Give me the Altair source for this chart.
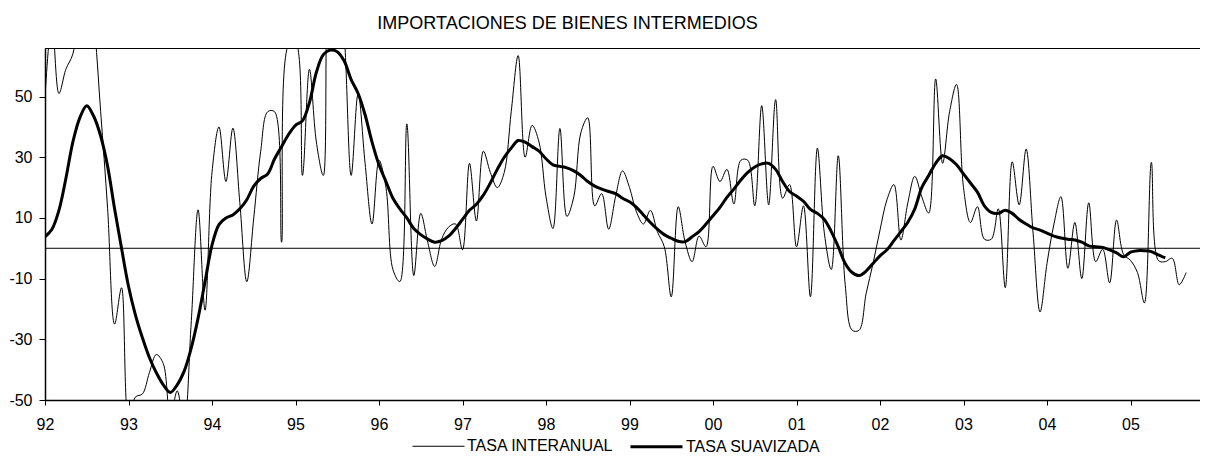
import altair as alt
import pandas as pd

# Monthly series, Jan 1992 onward
start_year = 1992
tasa_interanual = [
    50, 75, 51, 59, 64, 80, 90, 75, 45, 13, -25, -13,          # 1992
    -56, -49, -48, -41, -35, -38, -56, -47, -58, -25, 12.7, -20.4,  # 1993
    25, 40, 22, 39.6, 15, -11, 10, 32, 45, 45, 2, 67,          # 1994
    68, 24, 59, 35, 24, 95, 90, 70, 24, 51, 28, 8,             # 1995
    29, 20, -7, -11, 41, -9, 11.5, 2, -6, 3, 7, 8,             # 1996
    -0.5, 28, 9, 32, 25, 20, 25, 45, 63.5, 30, 40.5, 35,       # 1997
    17, 6.5, 39.5, 10.5, 17, 38, 43, 14, 18, 6.3, 17, 25.5,    # 1998
    20, 12, 8, 12.5, 5.5, 0.5, -16, 13.7, 2, -4.4, 4, 0.5,     # 1999
    27, 22, 26, 14.6, 29, 29, 14, 47, 14.3, 49, 16.5, 21,      # 2000
    0.5, 14, -16, 33, 5, -7, 30.5, -12, -27, -27, -15, -5,     # 2001
    6, 16, 21, 2.7, 15, 23.7, 17, 11.6, 55.8, 28, 45, 54,      # 2002
    20, 8.5, 13.7, 3, 3, 13, -13, 28.5, 14.3, 32.7, 5, -21,    # 2003
    -5, 8, 17, -6.6, 8.5, -10, 15, -4.4, -0.3, -11.4, 9.3, -2, # 2004
    -4, -8, -18, 28.3, -4, -4.4, -3.3, -12, -8,                # 2005
]
tasa_suavizada = [
    3.8, 6.3, 12.5, 23, 35, 43, 47, 43.5, 37, 27, 13, 0,
    -12.5, -22, -29.5, -36, -41, -45, -47.5, -45, -40.5, -33, -23, -11,
    1, 7.8, 10, 11, 13, 16, 20.5, 23, 24.5, 29.5, 33.5, 37.5,
    40.5, 42, 48, 58, 63.8, 65.3, 64.8, 61.7, 55.6, 51, 44, 35,
    27.5, 22, 16.5, 13, 10, 6.5, 4.5, 3, 2, 2.5, 4, 6.5,
    9.5, 12.5, 14.5, 17.5, 21.5, 26, 30, 33, 35.5, 35, 33.5, 32,
    29.5, 27.5, 27, 26.5, 25.5, 24, 22, 20.5, 19.5, 18.7, 18, 16.5,
    15.3, 13.5, 11, 8.5, 6.3, 4.5, 3.3, 2.3, 2.2, 3.8, 5.5, 8,
    10.7, 13.5, 16.8, 19.5, 22.5, 25, 26.8, 27.8, 28, 26, 22, 18.7,
    17.2, 15.5, 12.8, 11.5, 9.5, 5.5, 0.5, -5, -8, -9, -7.5, -5,
    -2.5, -0.5, 2.5, 5.5, 8.6, 13, 20, 24, 28, 30.5, 29.5, 27.5,
    24.5, 21.5, 18.5, 14, 11.8, 11.5, 12.5, 11.5, 9.5, 8, 6.7, 6,
    5, 4, 3.4, 3, 2.7, 2, 0.8, 0.5, 0.3, -0.5, -1.5, -2.8,
    -1.3, -0.8, -0.8, -1.1, -2.2, -3.2,
]
series_names = ["TASA INTERANUAL", "TASA SUAVIZADA"]
year_ticks = list(range(1992, 2006))
y_ticks = [-50, -30, -10, 10, 30, 50]

rows = []
for i, v in enumerate(tasa_interanual):
    rows.append({"t": start_year + i / 12, "v": v, "serie": series_names[0]})
for i, v in enumerate(tasa_suavizada):
    rows.append({"t": start_year + i / 12, "v": v, "serie": series_names[1]})
df = pd.DataFrame(rows)

FONT = "Liberation Sans"
PLOT_W = 1155
X_END = 1992 + PLOT_W / 83.5

leg = alt.Legend(
    title=None, orient="none", legendX=367, legendY=371, direction="horizontal",
    symbolType="stroke", symbolSize=2704, labelFontSize=16, labelFont=FONT,
    labelColor="black", labelOffset=2, columnPadding=10, padding=0,
)

lines = alt.Chart(df).mark_line(interpolate="catmull-rom", clip=True).encode(
    x=alt.X("t:Q",
            scale=alt.Scale(domain=[1992, X_END], nice=False, zero=False),
            axis=alt.Axis(values=year_ticks, labelExpr="slice(toString(datum.value), 2)",
                          title=None, grid=False, tickSize=5, labelPadding=11,
                          labelFlush=False, labelOverlap=False)),
    y=alt.Y("v:Q",
            scale=alt.Scale(domain=[-50, 66], nice=False, zero=False),
            axis=alt.Axis(values=y_ticks, labelExpr="toString(datum.value)",
                          title=None, grid=False, tickSize=6, labelPadding=7,
                          labelFlush=False, labelOverlap=False)),
    color=alt.Color("serie:N", scale=alt.Scale(domain=series_names, range=["black", "black"]), legend=leg),
    strokeWidth=alt.StrokeWidth("serie:N", scale=alt.Scale(domain=series_names, range=[1, 3]), legend=leg),
)

zero = alt.Chart(pd.DataFrame({"y": [0]})).mark_rule(color="black", strokeWidth=1).encode(y="y:Q")

chart = alt.layer(zero, lines).properties(
    width=PLOT_W, height=352,
    title=alt.Title("IMPORTACIONES DE BIENES INTERMEDIOS", fontSize=18, font=FONT,
                    fontWeight="normal", color="black", anchor="middle", dx=-55, offset=15),
    autosize=alt.AutoSizeParams(type="none"),
    padding={"left": 37, "top": 40, "right": 0, "bottom": 55},
).configure_view(stroke="black", strokeWidth=1).configure_axis(
    domainColor="black", tickColor="black", labelColor="black", labelFont=FONT,
    labelFontSize=16, domainWidth=1.5,
)

chart.save("out.html", embed_options={"renderer": "svg", "actions": False})
